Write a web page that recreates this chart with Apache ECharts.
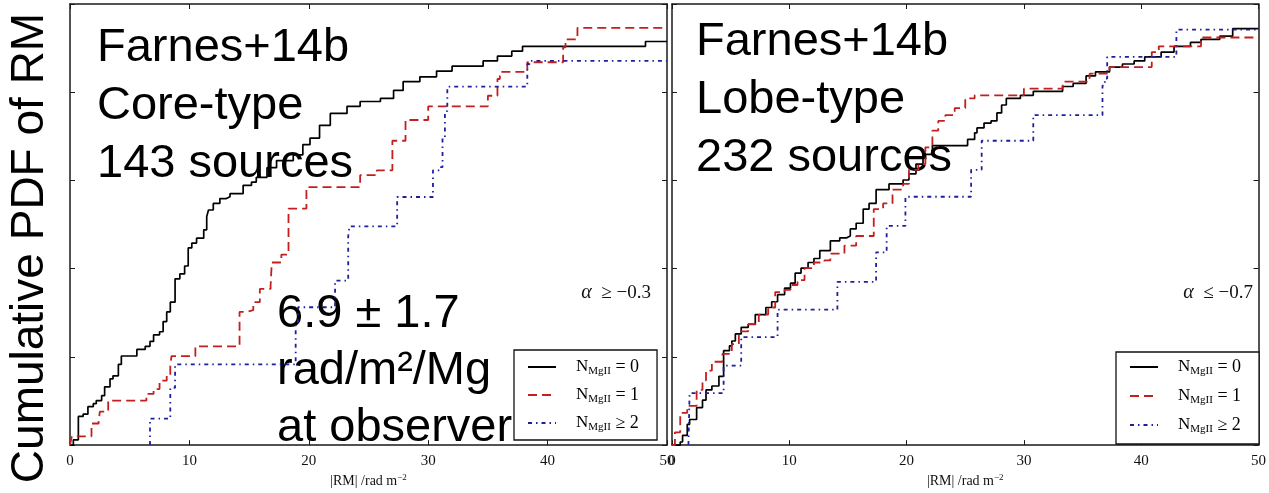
<!DOCTYPE html>
<html><head><meta charset="utf-8">
<script src="https://cdn.jsdelivr.net/npm/echarts@6/dist/echarts.min.js"></script>
<style>html,body{margin:0;padding:0;background:#fff}#c{width:1269px;height:493px}</style>
</head><body><div id="c"></div>
<script>
// ---------- data ----------
const xTicks = [0, 10, 20, 30, 40, 50];
const yTicks = [0, 0.2, 0.4, 0.6, 0.8, 1.0];
const seriesNames = ['N0', 'N1', 'N2'];
const legendParts = [['N', 'MgII', '= 0'], ['N', 'MgII', '= 1'], ['N', 'MgII', '≥ 2']];
const yTitle = 'Cumulative PDF of RM';
const xTitle = ['|RM| /rad m', '−2'];
const leftNote = ['Farnes+14b', 'Core-type', '143 sources'];
const rightNote = ['Farnes+14b', 'Lobe-type', '232 sources'];
const midNote = ['6.9 ± 1.7', 'rad/m²/Mg', 'at observer'];
const alphaNotes = [['α', '≥ −0.3'], ['α', '≤ −0.7']];

// Core-type panel (|RM|, cumulative fraction)
const coreN0 = [[0,0],[0.28,0.012],[0.7,0.065],[1.1,0.07],[1.5,0.087],[1.95,0.094],[2.2,0.101],[2.65,0.112],[2.9,0.132],[3.35,0.15],[3.6,0.157],[4.05,0.183],[4.3,0.202],[5.6,0.217],[6.3,0.224],[6.7,0.235],[7.0,0.25],[7.5,0.257],[7.8,0.28],[8.1,0.302],[8.4,0.324],[8.8,0.377],[9.2,0.388],[9.6,0.406],[9.9,0.447],[10.2,0.458],[10.6,0.469],[11.2,0.488],[11.45,0.518],[11.6,0.533],[12.0,0.548],[12.55,0.559],[13.1,0.563],[13.4,0.57],[14.5,0.589],[15.2,0.596],[15.6,0.607],[16.5,0.629],[17.3,0.645],[18.7,0.658],[19.5,0.681],[20.1,0.696],[20.9,0.725],[21.8,0.752],[23.2,0.768],[24.3,0.779],[26.0,0.786],[27.1,0.804],[27.9,0.824],[29.3,0.835],[30.7,0.848],[32.0,0.859],[34.6,0.871],[35.8,0.882],[37.0,0.893],[37.9,0.904],[48.2,0.915],[50,0.915]];
const coreN1 = [[0,0],[0.15,0.02],[1.8,0.049],[2.4,0.054],[2.5,0.076],[3.2,0.101],[6.4,0.116],[7.0,0.127],[7.5,0.146],[8.1,0.157],[8.4,0.179],[8.5,0.2015],[10.5,0.224],[14.2,0.302],[14.8,0.306],[15.35,0.324],[15.9,0.354],[16.8,0.362],[16.9,0.414],[17.7,0.432],[18.3,0.536],[19.8,0.585],[24.3,0.612],[25.7,0.623],[27.0,0.69],[28.1,0.737],[30.0,0.768],[35.0,0.792],[35.8,0.83],[36.0,0.846],[38.3,0.868],[41.3,0.902],[41.5,0.92],[42.5,0.946],[50,0.946]];
const coreN2 = [[6.7,0],[6.7,0.06],[8.4,0.13],[8.8,0.183],[18.9,0.279],[19.1,0.3125],[22.2,0.373],[23.3,0.473],[23.4,0.496],[27.4,0.5625],[30.4,0.623],[31.0,0.63],[31.2,0.696],[31.4,0.757],[31.6,0.8125],[38.3,0.864],[38.5,0.871],[50,0.871]];

// Lobe-type panel
const lobeN0 = [[0,0],[0.7,0.007],[0.9,0.022],[1.3,0.047],[1.5,0.058],[2.1,0.085],[2.6,0.102],[2.9,0.125],[3.4,0.134],[4.0,0.156],[4.4,0.214],[4.9,0.225],[5.1,0.236],[5.4,0.252],[5.9,0.267],[6.5,0.274],[7.1,0.296],[8.0,0.312],[8.5,0.325],[9.0,0.341],[9.6,0.356],[10.1,0.367],[10.5,0.39],[11.0,0.401],[11.6,0.414],[12.1,0.423],[12.6,0.441],[13.5,0.463],[14.3,0.47],[14.9,0.474],[15.2,0.49],[15.7,0.503],[16.3,0.535],[16.8,0.548],[17.4,0.579],[18.5,0.592],[19.7,0.601],[20.2,0.615],[20.8,0.637],[21.4,0.659],[22.2,0.679],[25.2,0.693],[25.8,0.708],[26.0,0.719],[26.6,0.73],[27.2,0.735],[27.7,0.753],[28.1,0.771],[28.5,0.786],[29.7,0.793],[30.8,0.802],[33.3,0.813],[34.2,0.82],[35.3,0.837],[36.1,0.846],[37.3,0.857],[38.4,0.864],[39.4,0.871],[40.3,0.88],[41.7,0.891],[42.8,0.904],[44.2,0.913],[45.1,0.92],[46.7,0.927],[47.8,0.944],[50,0.944]];
const lobeN1 = [[0,0],[0.25,0.029],[0.7,0.073],[1.3,0.089],[2.1,0.125],[2.6,0.147],[2.9,0.169],[3.4,0.189],[4.3,0.207],[5.1,0.229],[5.7,0.258],[6.5,0.274],[7.4,0.296],[8.2,0.312],[8.8,0.347],[9.6,0.352],[10.1,0.363],[10.7,0.374],[11.3,0.401],[12.1,0.414],[13.0,0.419],[13.5,0.434],[14.7,0.452],[15.7,0.474],[17.2,0.535],[18.0,0.548],[18.8,0.579],[19.7,0.592],[20.2,0.624],[21.0,0.637],[21.6,0.675],[22.2,0.713],[22.7,0.735],[23.3,0.748],[24.1,0.764],[25.0,0.786],[25.8,0.793],[30.0,0.808],[33.3,0.824],[35.6,0.842],[37.3,0.857],[40.9,0.891],[41.5,0.904],[45.1,0.924],[50,0.924]];
const lobeN2 = [[1.4,0],[1.5,0.118],[4.4,0.18],[5.9,0.245],[9.0,0.307],[14.1,0.37],[17.4,0.437],[18.3,0.468],[18.3,0.497],[19.9,0.563],[25.5,0.624],[26.4,0.69],[30.8,0.748],[36.7,0.815],[36.9,0.831],[37.1,0.88],[43.0,0.942],[50,0.942]];

// ---------- chart ----------
const chart = echarts.init(document.getElementById('c'), null, {renderer: 'canvas'});
const SERIF = '"Liberation Serif", "DejaVu Serif", serif';
const SANS = '"Liberation Sans", Arial, sans-serif';
const axisCol = '#1a1a1a';
const styles = [
  {color: '#000000', width: 1.7, type: 'solid'},
  {color: '#c41f1f', width: 1.8, type: [9, 5]},
  {color: '#1f1f9e', width: 1.8, type: [4, 4, 1.5, 4]}
];

const grids = [
  {left: 70, top: 4, width: 597, height: 448},
  {left: 672, top: 4, width: 596, height: 449}
];
function xAx(g, top) {
  return {
    type: 'value', gridIndex: g, position: top ? 'top' : 'bottom',
    min: xTicks[0], max: xTicks[xTicks.length - 1], interval: xTicks[1] - xTicks[0],
    axisLine: {show: true, onZero: false, lineStyle: {color: axisCol, width: 1.5}},
    axisTick: {show: true, inside: true, length: 5, lineStyle: {color: axisCol, width: 1}},
    axisLabel: {show: !top, margin: 8, color: '#111', fontFamily: SERIF, fontSize: 15, showMinLabel: true, showMaxLabel: true},
    splitLine: {show: false},
    name: top ? '' : '{a|' + xTitle[0] + '}{b|' + xTitle[1] + '}',
    nameLocation: 'middle', nameGap: 26,
    nameTextStyle: {rich: {
      a: {fontFamily: SERIF, fontSize: 14, color: '#111', lineHeight: 16},
      b: {fontFamily: SERIF, fontSize: 9, color: '#111', lineHeight: 10, verticalAlign: 'top'}
    }}
  };
}
function yAx(g, right) {
  return {
    type: 'value', gridIndex: g, position: right ? 'right' : 'left',
    min: yTicks[0], max: yTicks[yTicks.length - 1], interval: yTicks[1] - yTicks[0],
    axisLine: {show: true, onZero: false, lineStyle: {color: axisCol, width: 1.5}},
    axisTick: {show: true, inside: true, length: 5, lineStyle: {color: axisCol, width: 1}},
    axisLabel: {show: false},
    splitLine: {show: false}
  };
}
const xAxes = [xAx(0, false), xAx(0, true), xAx(1, false), xAx(1, true)];
const yAxes = [yAx(0, false), yAx(0, true), yAx(1, false), yAx(1, true)];

const panelData = [[coreN0, coreN1, coreN2], [lobeN0, lobeN1, lobeN2]];
const series = [];
panelData.forEach((arrs, p) => {
  arrs.forEach((d, k) => {
    series.push({
      type: 'line', name: seriesNames[k], data: d, step: 'end',
      xAxisIndex: p * 2, yAxisIndex: p * 2, symbol: 'none', showSymbol: false,
      lineStyle: styles[k], itemStyle: {color: styles[k].color},
      silent: true, animation: false, z: 3
    });
  });
});

const legendRich = {
  sp: {width: 15},
  n: {fontFamily: SERIF, fontSize: 17, color: '#000', lineHeight: 20},
  s: {fontFamily: SERIF, fontSize: 11, color: '#000', lineHeight: 10, verticalAlign: 'bottom'},
  t: {fontFamily: SERIF, fontSize: 18, color: '#000', lineHeight: 20}
};
function legendFmt(name) {
  const p = legendParts[seriesNames.indexOf(name)];
  return '{sp|}{n|' + p[0] + '}{s|' + p[1] + '}{t| ' + p[2] + '}';
}
function mkLegend(left, top, gap, pad) {
  return {
    data: seriesNames, orient: 'vertical', left: left, top: top,
    itemWidth: 28, itemHeight: 12, itemGap: gap, padding: pad,
    backgroundColor: '#fff', borderColor: '#111', borderWidth: 1.3, borderRadius: 0,
    selectedMode: false, formatter: legendFmt,
    itemStyle: {opacity: 0, color: 'rgba(0,0,0,0)', borderColor: 'rgba(0,0,0,0)', borderWidth: 0},
    textStyle: {rich: legendRich}, z: 5
  };
}

const alphaRich = {
  i: {fontFamily: SERIF, fontStyle: 'italic', fontSize: 20, fill: '#111', color: '#111'},
  r: {fontFamily: SERIF, fontSize: 19, fill: '#111', color: '#111'}
};
const graphic = [
  {type: 'text', x: 30, y: 248, rotation: Math.PI / 2, z: 1,
   style: {text: yTitle, font: '46px ' + SANS, fill: '#000', align: 'center', verticalAlign: 'middle', textAlign: 'center', textVerticalAlign: 'middle'}},
  {type: 'text', x: 97, y: 19, z: 1,
   style: {text: leftNote.join('\n'), font: '47px ' + SANS, fill: '#000', lineHeight: 58}},
  {type: 'text', x: 696, y: 13, z: 1,
   style: {text: rightNote.join('\n'), font: '47px ' + SANS, fill: '#000', lineHeight: 58}},
  {type: 'text', x: 277, y: 286, z: 1,
   style: {text: midNote.join('\n'), font: '47px ' + SANS, fill: '#000', lineHeight: 57}},
  {type: 'text', x: 651, y: 293, z: 1,
   style: {text: '{i|' + alphaNotes[0][0] + '}{r|  ' + alphaNotes[0][1] + '}', align: 'right', verticalAlign: 'middle', textAlign: 'right', textVerticalAlign: 'middle', rich: alphaRich}},
  {type: 'text', x: 1253, y: 293, z: 1,
   style: {text: '{i|' + alphaNotes[1][0] + '}{r|  ' + alphaNotes[1][1] + '}', align: 'right', verticalAlign: 'middle', textAlign: 'right', textVerticalAlign: 'middle', rich: alphaRich}}
];

chart.setOption({
  animation: false,
  backgroundColor: '#ffffff',
  grid: grids,
  xAxis: xAxes,
  yAxis: yAxes,
  legend: [mkLegend(514, 350, 9, [8, 18, 7, 13]), mkLegend(1116, 352, 10, [6, 18, 9, 13])],
  graphic: graphic,
  series: series
});
</script>
</body></html>
